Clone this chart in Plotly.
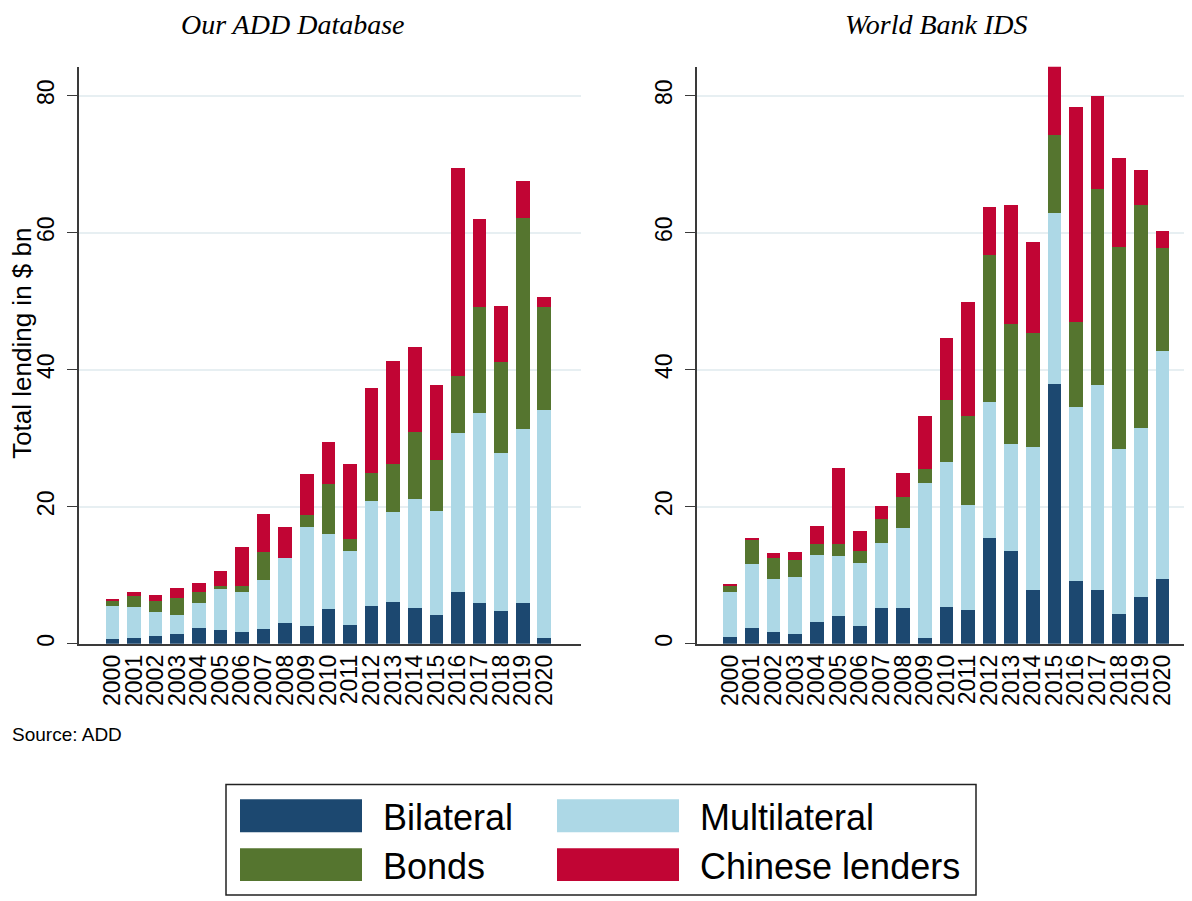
import plotly.graph_objects as go
from plotly.subplots import make_subplots

# years on the x axis
years = list(range(2000, 2021))
year_labels = [str(y) for y in years]

# Our ADD Database (bn $)
add_bilateral = [0.7, 0.8, 1.1, 1.4, 2.3, 2.0, 1.8, 2.2, 3.1, 2.6, 5.1, 2.8, 5.5, 6.1, 5.2, 4.2, 7.5, 6.0, 4.8, 5.9, 0.9]
add_multilateral = [4.8, 4.6, 3.5, 2.8, 3.7, 6.0, 5.7, 7.1, 9.4, 14.5, 11.0, 10.8, 15.3, 13.1, 15.9, 15.2, 23.2, 27.7, 23.0, 25.4, 33.2]
add_bonds = [0.8, 1.6, 1.6, 2.5, 1.5, 0.5, 0.9, 4.1, 0.0, 1.7, 7.2, 1.7, 4.2, 7.1, 9.8, 7.5, 8.4, 15.4, 13.3, 30.8, 15.1]
add_chinese = [0.3, 0.5, 0.9, 1.5, 1.4, 2.1, 5.7, 5.6, 4.6, 6.0, 6.2, 10.9, 12.4, 15.0, 12.4, 10.9, 30.3, 12.9, 8.2, 5.4, 1.4]

# World Bank IDS (bn $)
ids_bilateral = [1.0, 2.3, 1.7, 1.5, 3.2, 4.0, 2.6, 5.2, 5.2, 0.8, 5.4, 4.9, 15.4, 13.5, 7.9, 37.9, 9.1, 7.8, 4.3, 6.8, 9.5]
ids_multilateral = [6.5, 9.4, 7.8, 8.3, 9.7, 8.8, 9.2, 9.5, 11.7, 22.6, 21.1, 15.4, 19.9, 15.7, 20.8, 25.0, 25.5, 30.0, 24.2, 24.7, 33.2]
ids_bonds = [1.0, 3.4, 3.1, 2.5, 1.6, 1.7, 1.8, 3.5, 4.5, 2.1, 9.1, 12.9, 21.5, 17.5, 16.6, 11.4, 12.4, 28.6, 29.4, 32.6, 15.1]
ids_chinese = [0.3, 0.4, 0.7, 1.1, 2.7, 11.1, 2.8, 1.9, 3.6, 7.8, 9.1, 16.7, 7.0, 17.3, 13.3, 10.1, 31.4, 13.5, 13.0, 5.0, 2.5]

series_names = ["Bilateral", "Multilateral", "Bonds", "Chinese lenders"]
colors = ["#1c4870", "#add8e6", "#55752f", "#c10534"]
y_ticks = [0, 20, 40, 60, 80]

# page body has an 8px margin, so the figure is a bit smaller and
# all pixel positions below are given in window coordinates
OFF = 8
W, H = 1192 - OFF, 901 - OFF


def px_x(x):
    return (x - OFF) / W


def px_y(y):
    return 1 - (y - OFF) / H


fig = make_subplots(rows=1, cols=2)

panels = [
    [add_bilateral, add_multilateral, add_bonds, add_chinese],
    [ids_bilateral, ids_multilateral, ids_bonds, ids_chinese],
]
for col, panel in enumerate(panels, start=1):
    for name, vals, c in zip(series_names, panel, colors):
        fig.add_trace(go.Bar(x=years, y=vals, name=name, marker_color=c,
                             marker_line_width=0, width=0.63, showlegend=False),
                      row=1, col=col)

fig.update_layout(barmode="stack", width=W, height=H,
                  margin=dict(l=0, r=0, t=0, b=0),
                  plot_bgcolor="white", paper_bgcolor="white",
                  font=dict(family="Liberation Sans, Arial", color="black"))

axis_common = dict(showline=True, linecolor="#3a3a3a", linewidth=1.5)
fig.update_xaxes(tickvals=years, ticktext=year_labels, tickangle=-90,
                 ticks="", tickfont=dict(size=23), showgrid=False, **axis_common)
fig.update_yaxes(range=[0, 84.2], tickvals=y_ticks, tickangle=-90,
                 ticks="outside", ticklen=10, tickcolor="#3a3a3a", tickwidth=1.3,
                 tickfont=dict(size=23), ticklabelstandoff=4,
                 showgrid=True, gridcolor="#e7eff2", gridwidth=1.5,
                 zeroline=False, **axis_common)

y_dom = [px_y(646), px_y(67)]
fig.update_layout(
    xaxis=dict(domain=[px_x(79), px_x(581)], range=[1998.45, 2021.7]),
    xaxis2=dict(domain=[px_x(697), 1.0], range=[1998.46, 2021.37]),
    yaxis=dict(domain=y_dom),
    yaxis2=dict(domain=y_dom),
)

ann = []
ann.append(dict(text="<i>Our ADD Database</i>", x=px_x(292), y=px_y(8), yanchor="top",
                borderpad=0, font=dict(family="Liberation Serif, Times New Roman", size=28)))
ann.append(dict(text="<i>World Bank IDS</i>", x=px_x(936), y=px_y(8), yanchor="top",
                borderpad=0, font=dict(family="Liberation Serif, Times New Roman", size=28)))
ann.append(dict(text="Total lending in $ bn", x=px_x(22), y=px_y(345), textangle=-90,
                font=dict(size=26)))
ann.append(dict(text="Source: ADD", x=px_x(10), y=px_y(737), xanchor="left",
                font=dict(size=19)))

# legend box drawn by hand (large swatches)
shapes = [dict(type="rect", xref="paper", yref="paper",
               x0=px_x(226), x1=px_x(976), y0=px_y(898), y1=px_y(787),
               line=dict(color="#222", width=1.5), fillcolor="white")]
sw_x = [240, 557, 240, 557]
sw_y = [802, 802, 851, 851]
for name, c, sx, sy in zip(series_names, colors, sw_x, sw_y):
    shapes.append(dict(type="rect", xref="paper", yref="paper",
                       x0=px_x(sx), x1=px_x(sx + 122), y0=px_y(sy + 33), y1=px_y(sy),
                       line=dict(width=0), fillcolor=c))
    ann.append(dict(text=name, x=px_x(sx + 141), y=px_y(sy + 18), xanchor="left",
                    font=dict(size=36)))

for a in ann:
    a.setdefault("xref", "paper")
    a.setdefault("yref", "paper")
    a.setdefault("showarrow", False)
    a.setdefault("xanchor", "center")
    a.setdefault("yanchor", "middle")
fig.update_layout(annotations=ann, shapes=shapes)

fig.write_html("out.html")
